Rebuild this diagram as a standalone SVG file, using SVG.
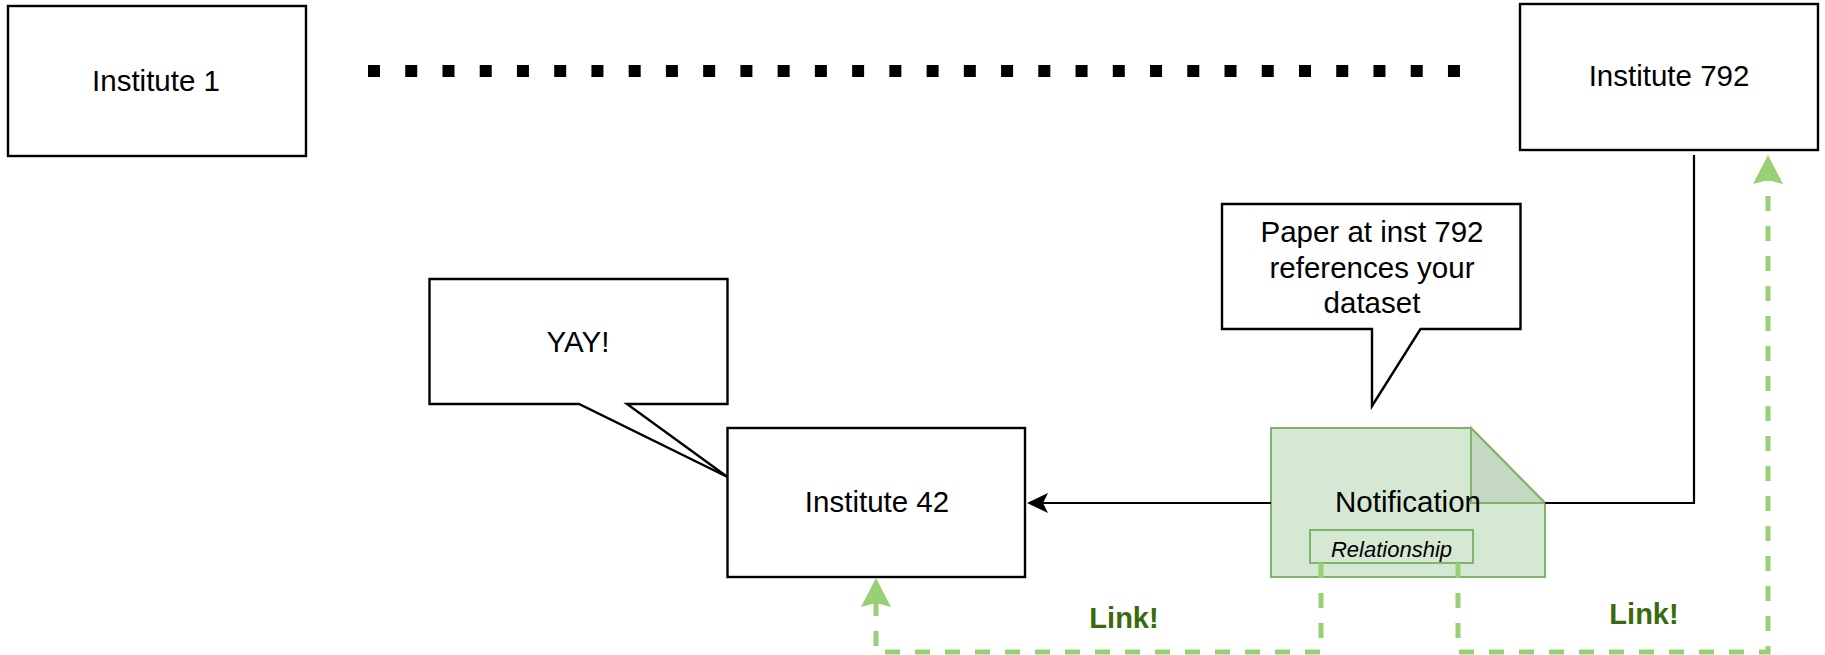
<svg xmlns="http://www.w3.org/2000/svg" width="1825" height="655" viewBox="0 0 1825 655">
<style>
.box{fill:#ffffff;stroke:#000000;stroke-width:2.4}
.t{font-family:"Liberation Sans",Arial,sans-serif;font-size:29.5px;fill:#000000;text-anchor:middle}
.it{font-family:"Liberation Sans",Arial,sans-serif;font-size:22px;font-style:italic;fill:#000000;text-anchor:middle}
.lnk{font-family:"Liberation Sans",Arial,sans-serif;font-size:29px;font-weight:bold;fill:#3a6a0c;text-anchor:middle}
.edge{fill:none;stroke:#000000;stroke-width:2.2}
.gedge{fill:none;stroke:#97d077;stroke-width:5;stroke-dasharray:15 15}
.note{fill:#d5e8d4;stroke:#82b366;stroke-width:2}
</style>
<defs>
<marker id="arrB" markerUnits="userSpaceOnUse" viewBox="0 0 21 20" markerWidth="21" markerHeight="20" refX="5" refY="10" orient="auto">
<path d="M21,10 L0,0 L5,10 L0,20 Z" fill="#000000"/>
</marker>
<marker id="arrG" markerUnits="userSpaceOnUse" viewBox="0 0 29 30" markerWidth="29" markerHeight="30" refX="4" refY="15" orient="auto">
<path d="M29,15 L0,0 L4,15 L0,30 Z" fill="#97d077"/>
</marker>
</defs>

<g id="institute1">
<rect class="box" x="8" y="6" width="298" height="150"/>
<text class="t" x="156" y="91">Institute 1</text>
</g>

<g id="dots">
<line x1="368" y1="71" x2="1461" y2="71" stroke="#000000" stroke-width="12" stroke-dasharray="12 25.24"/>
</g>

<g id="institute792">
<rect class="box" x="1520" y="4" width="298" height="146"/>
<text class="t" x="1669" y="86">Institute 792</text>
</g>

<g id="callout-paper">
<path class="box" d="M1222,204 H1520.5 V329 H1420.5 L1372,406 V329 H1222 Z"/>
<text class="t" x="1372" y="242">Paper at inst 792</text>
<text class="t" x="1372" y="278">references your</text>
<text class="t" x="1372" y="313">dataset</text>
</g>

<g id="callout-yay">
<path class="box" d="M429.5,279 H727.5 V404 H627 L727.5,477 L579,404 H429.5 Z"/>
<text class="t" x="578" y="352">YAY!</text>
</g>

<g id="institute42">
<rect class="box" x="727.5" y="428" width="297.5" height="149"/>
<text class="t" x="877" y="512">Institute 42</text>
</g>

<g id="notification">
<path class="note" d="M1271,428 H1471 L1545,503 V577 H1271 Z"/>
<path d="M1471,428 V503 H1545 Z" fill="#c4d8c2" stroke="#82b366" stroke-width="2"/>
<text class="t" x="1408" y="512">Notification</text>
<rect class="note" x="1310" y="530" width="163" height="33"/>
<text class="it" x="1391.5" y="557">Relationship</text>
</g>

<g id="connectors">
<path class="edge" d="M1694,155 V503 H1545"/>
<path class="edge" d="M1271,503 H1043" marker-end="url(#arrB)"/>
<path class="gedge" d="M1321,563 V652 H876 V603" marker-end="url(#arrG)"/>
<path class="gedge" d="M1458,563 V652 H1768 V180" marker-end="url(#arrG)"/>
<text class="lnk" x="1124" y="628">Link!</text>
<text class="lnk" x="1644" y="624">Link!</text>
</g>
</svg>
